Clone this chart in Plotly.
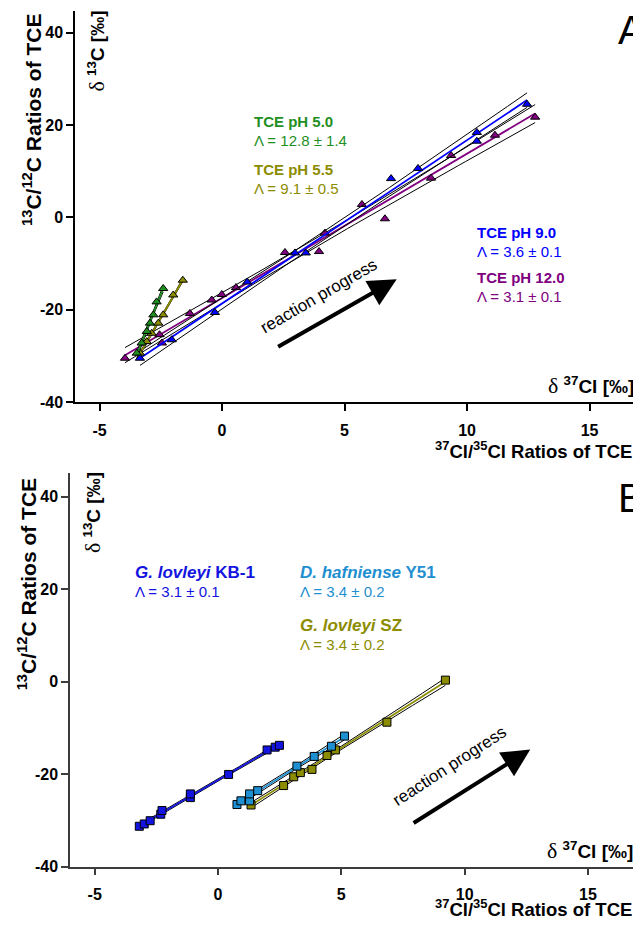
import numpy as np
import plotly.graph_objects as go

# page is offset by the 8px body margin; the figure is sized so the page does not scroll
OX, OY = 8, 8
W, H = 641 - OX, 934 - 2 * OY

# ---------------- data ----------------
# Panel A: TCE at different pH
A_ph50_x = [-3.48, -3.28, -3.07, -2.94, -2.80, -2.67, -2.40]
A_ph50_y = [-29.4, -27.2, -24.7, -22.9, -21.1, -18.3, -15.4]
A_ph55_x = [-3.35, -3.07, -2.87, -2.60, -2.40, -1.99, -1.60]
A_ph55_y = [-29.4, -26.9, -25.1, -22.9, -21.1, -16.8, -13.6]
A_ph90_x = [-3.35, -2.05, -0.29, 1.03, 2.98, 3.42, 6.90, 8.00, 10.40, 10.40, 12.45]
A_ph90_y = [-30.5, -26.5, -20.6, -14.0, -7.7, -7.7, 8.4, 10.6, 16.5, 18.4, 24.5]
A_ph120_x = [-3.96, -2.55, -2.45, -1.31, -0.42, -0.01, 0.57, 2.57, 3.96, 4.20, 5.71, 6.65, 8.53, 9.35, 11.14, 12.78]
A_ph120_y = [-30.5, -25.4, -27.2, -20.8, -17.9, -16.7, -15.2, -7.6, -7.4, -3.4, 2.8, -0.3, 8.5, 13.4, 17.8, 21.7]

# Panel B: microbial cultures
B_kb1_x = [-3.19, -2.99, -2.75, -2.32, -2.27, -1.12, -1.12, 0.43, 1.99, 2.32, 2.49]
B_kb1_y = [-31.3, -30.8, -30.1, -28.7, -27.9, -25.1, -24.3, -20.1, -14.8, -14.2, -13.8]
B_y51_x = [0.77, 0.93, 1.28, 1.28, 1.61, 3.20, 3.90, 4.60, 5.13]
B_y51_y = [-26.6, -25.8, -25.8, -24.3, -23.6, -18.3, -16.2, -14.0, -11.8]
B_sz_x = [1.34, 2.66, 3.07, 3.34, 3.81, 4.42, 4.76, 6.85, 9.22]
B_sz_y = [-26.7, -22.5, -20.6, -19.7, -19.0, -16.0, -14.8, -8.8, 0.3]

x_ticks = [-5, 0, 5, 10, 15]
y_ticks = [-40, -20, 0, 20, 40]

A_labels = [("TCE pH 5.0", "Λ = 12.8 ± 1.4"), ("TCE pH 5.5", "Λ = 9.1 ± 0.5"),
            ("TCE pH 9.0", "Λ = 3.6 ± 0.1"), ("TCE pH 12.0", "Λ = 3.1 ± 0.1")]
B_labels = [("<i>G. lovleyi</i> KB-1", "Λ = 3.1 ± 0.1"),
            ("<i>D. hafniense</i> Y51", "Λ = 3.4 ± 0.2"),
            ("<i>G. lovleyi</i> SZ", "Λ = 3.4 ± 0.2")]

# ---------------- styling ----------------
GREEN = "#1F8F1F"
OLIVE = "#8C8C00"
BLUE = "#0000FF"
PURPLE = "#800080"
KB1 = "#1414E0"
Y51 = "#1E8FD0"
SZ = "#8C8C00"
FONT = "Arial, Liberation Sans, sans-serif"
SERIF = "Liberation Serif"


def px2paper(px, py):
    return (px - OX) / W, 1 - (py - OY) / H


def fit(x, y, t=2.2):
    x = np.asarray(x, float)
    y = np.asarray(y, float)
    n = len(x)
    b, a = np.polyfit(x, y, 1)
    xs = np.linspace(x.min(), x.max(), 60)
    yh = a + b * xs
    res = y - (a + b * x)
    s = np.sqrt(np.sum(res ** 2) / (n - 2))
    sxx = np.sum((x - x.mean()) ** 2)
    se = s * np.sqrt(1 / n + (xs - x.mean()) ** 2 / sxx)
    return xs, yh, yh - t * se, yh + t * se


fig = go.Figure()


def add_series(x, y, color, symbol, xa, ya, lw=1.8):
    xs, yh, lo, hi = fit(x, y)
    for band in (lo, hi):
        fig.add_trace(go.Scatter(x=xs, y=band, mode="lines", xaxis=xa, yaxis=ya,
                                 line=dict(color="black", width=1), showlegend=False,
                                 hoverinfo="skip"))
    fig.add_trace(go.Scatter(x=xs, y=yh, mode="lines", xaxis=xa, yaxis=ya,
                             line=dict(color=color, width=lw), showlegend=False,
                             hoverinfo="skip"))
    fig.add_trace(go.Scatter(x=x, y=y, mode="markers", xaxis=xa, yaxis=ya,
                             marker=dict(symbol=symbol, size=8, color=color,
                                         line=dict(color="black", width=1)),
                             showlegend=False))


add_series(A_ph120_x, A_ph120_y, PURPLE, "triangle-up", "x", "y")
add_series(A_ph90_x, A_ph90_y, BLUE, "triangle-up", "x", "y")
add_series(A_ph55_x, A_ph55_y, OLIVE, "triangle-up", "x", "y")
add_series(A_ph50_x, A_ph50_y, GREEN, "triangle-up", "x", "y")

add_series(B_sz_x, B_sz_y, SZ, "square", "x2", "y2")
add_series(B_y51_x, B_y51_y, Y51, "square", "x2", "y2")
add_series(B_kb1_x, B_kb1_y, KB1, "square", "x2", "y2")

axis_common = dict(showgrid=False, zeroline=False, showline=True, ticks="outside",
                   ticklen=7, tickwidth=1.5, linewidth=1.5,
                   tickfont=dict(family=FONT, size=16, color="black", weight="bold"))
xt = dict(tickvals=x_ticks, ticktext=[str(v) for v in x_ticks])
yt = dict(tickvals=y_ticks, ticktext=[str(v) for v in y_ticks])

fig.update_layout(
    width=W, height=H, margin=dict(l=0, r=0, t=0, b=0),
    paper_bgcolor="white", plot_bgcolor="white",
    xaxis=dict(domain=[(75 - OX) / W, 1], range=[-6.0, 17.1], anchor="y",
               linecolor="black", tickcolor="black", ticklabelstandoff=6, **xt, **axis_common),
    yaxis=dict(domain=[1 - (406 - OY) / H, 1 - (11 - OY) / H], range=[-40, 44.7], anchor="x",
               linecolor="black", tickcolor="black", **yt, **axis_common),
    xaxis2=dict(domain=[(70 - OX) / W, 1], range=[-6.0, 17.15], anchor="y2",
                linecolor="#3c3c3c", tickcolor="#3c3c3c", ticklabelstandoff=6, **xt, **axis_common),
    yaxis2=dict(domain=[1 - (875 - OY) / H, 1 - (478 - OY) / H], range=[-40, 45], anchor="x2",
                linecolor="#3c3c3c", tickcolor="#3c3c3c", **yt, **axis_common),
)

ann = []


def text(px, py, s, size=15, color="black", angle=0, xanchor="center", yanchor="middle", family=FONT):
    x, y = px2paper(px, py)
    ann.append(dict(x=x, y=y, xref="paper", yref="paper", text=s, showarrow=False,
                    textangle=angle, xanchor=xanchor, yanchor=yanchor,
                    font=dict(family=family, size=size, color=color)))


delta = "<span style='font-family:%s;font-weight:normal;font-size:1.15em'>δ</span>" % SERIF
ylab_outer = "<b><sup>13</sup>C/<sup>12</sup>C Ratios of TCE</b>"
ylab_inner = delta + " <b><sup>13</sup>C [‰]</b>"
xlab_inner = delta + " <b><sup>37</sup>Cl [‰]</b>"
xlab_outer = "<b><sup>37</sup>Cl/<sup>35</sup>Cl Ratios of TCE</b>"

# Panel A titles
text(32, 121, ylab_outer, size=21, angle=-90)
text(97, 52, ylab_inner, size=19, angle=-90)
text(591, 389, xlab_inner, size=19)
text(533, 454, xlab_outer, size=18.5)
text(631, 30, "A", size=40)

# Panel B titles
text(27, 590, ylab_outer, size=21, angle=-90)
text(92, 518, ylab_inner, size=19, angle=-90)
text(590, 859, xlab_inner, size=19)
text(533, 917, xlab_outer, size=18.5)
text(631, 503, "B", size=40)

# Panel A labels
A_pos = [(252, 123, GREEN), (252, 171, OLIVE), (475, 235, BLUE), (475, 280, PURPLE)]
for (t1, t2), (px, py, c) in zip(A_labels, A_pos):
    text(px, py, "<b>%s</b>" % t1, size=15, color=c, xanchor="left")
    text(px, py + 19, t2, size=15, color=c, xanchor="left")

B_pos = [(133, 578, KB1), (298, 578, Y51), (298, 632, SZ)]
for (t1, t2), (px, py, c) in zip(B_labels, B_pos):
    text(px, py, "<b>%s</b>" % t1, size=17, color=c, xanchor="left")
    text(px, py + 19, t2, size=15, color=c, xanchor="left")

# reaction progress arrows + text
text(318, 299, "reaction progress", size=17, angle=-30)
text(449, 774, "reaction progress", size=17, angle=-33)
ann.append(dict(x=7.13, y=-13.4, ax=2.23, ay=-28.2, xref="x", yref="y", axref="x", ayref="y",
                text="", showarrow=True, arrowhead=2, arrowsize=1.4, arrowwidth=4,
                arrowcolor="black"))
ann.append(dict(x=12.66, y=-14.7, ax=7.87, ay=-30.8, xref="x2", yref="y2", axref="x2", ayref="y2",
                text="", showarrow=True, arrowhead=2, arrowsize=1.4, arrowwidth=4,
                arrowcolor="black"))

fig.update_layout(annotations=ann)
fig.write_html("out.html")
